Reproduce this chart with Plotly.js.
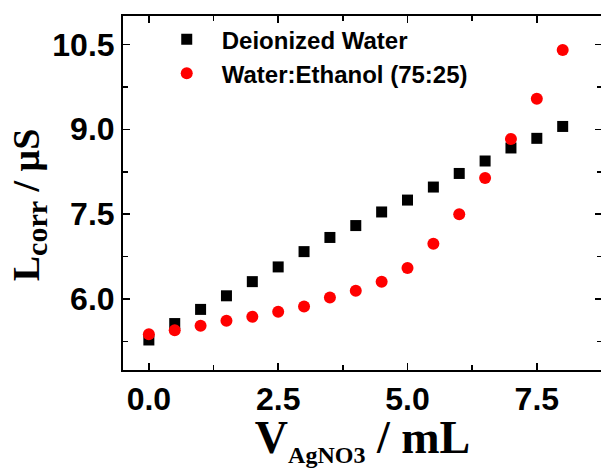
<!DOCTYPE html>
<html>
<head>
<meta charset="utf-8">
<script src="https://cdn.plot.ly/plotly-3.0.1.min.js"></script>
<style>
html,body{margin:0;padding:0;overflow:hidden;background:#fff;}
#chart{width:610px;height:468px;}
</style>
</head>
<body>
<div id="chart"></div>
<script>
const volume = [0, 0.5, 1.0, 1.5, 2.0, 2.5, 3.0, 3.5, 4.0, 4.5, 5.0, 5.5, 6.0, 6.5, 7.0, 7.5, 8.0];
const deionizedWater = [5.28, 5.57, 5.82, 6.06, 6.31, 6.57, 6.84, 7.09, 7.30, 7.54, 7.75, 7.98, 8.22, 8.44, 8.67, 8.84, 9.05];
const waterEthanol = [5.38, 5.45, 5.53, 5.62, 5.69, 5.78, 5.87, 6.03, 6.15, 6.31, 6.55, 6.98, 7.50, 8.14, 8.83, 9.54, 10.40];
const seriesNames = ["Deionized Water", "Water:Ethanol (75:25)"];
const xTitle = 'V<sub><span style="font-size:24px">AgNO3</span></sub> / mL';
const yTitle = 'L<sub><span style="font-size:30px">corr</span></sub> / μS';

const tickFont = {family: "Liberation Sans, Arial, sans-serif", size: 32, color: "#000", weight: "bold"};
const titleFont = {family: "Liberation Serif, Times New Roman, serif", color: "#000", weight: "bold"};

const traces = [
  {x: volume, y: deionizedWater, name: seriesNames[0], type: "scatter", mode: "markers",
   marker: {symbol: "square", size: 11, color: "#000000"}},
  {x: volume, y: waterEthanol, name: seriesNames[1], type: "scatter", mode: "markers",
   marker: {symbol: "circle", size: 12, color: "#ff0000"}}
];

const axisCommon = {
  showgrid: false, zeroline: false, showline: true, linecolor: "#000", linewidth: 2,
  mirror: "ticks", ticks: "inside", ticklen: 7, tickwidth: 1.5, tickcolor: "#000",
  tickfont: tickFont, tickformat: ".1f"
};

const layout = {
  width: 610, height: 468,
  margin: {l: 123, r: 8, t: 16, b: 98},
  paper_bgcolor: "#fff", plot_bgcolor: "#fff",
  showlegend: true,
  legend: {x: 0.06, y: 0.997, xanchor: "left", yanchor: "top", xref: "paper", yref: "paper",
    bgcolor: "rgba(0,0,0,0)", borderwidth: 0, itemwidth: 60, tracegroupgap: 0,
    font: {family: "Liberation Sans, Arial, sans-serif", size: 24, color: "#000", weight: "bold"}},
  xaxis: Object.assign({}, axisCommon, {
    range: [-0.5, 8.76], dtick: 2.5, tick0: 0,
    minor: {dtick: 1.25, ticks: "inside", ticklen: 5, tickcolor: "#000", tickwidth: 1.5},
    title: {text: xTitle, font: Object.assign({size: 46}, titleFont), standoff: 6}
  }),
  yaxis: Object.assign({}, axisCommon, {
    range: [4.75, 11.0], dtick: 1.5, tick0: 0,
    minor: {dtick: 0.75, ticks: "inside", ticklen: 5, tickcolor: "#000", tickwidth: 1.5}
  }),
  annotations: [
    {text: yTitle, xref: "paper", yref: "paper", x: -0.25, y: 0.466,
     xanchor: "left", yanchor: "middle", textangle: -90, showarrow: false,
     font: Object.assign({size: 38}, titleFont)}
  ]
};

Plotly.newPlot("chart", traces, layout, {displayModeBar: false, staticPlot: true});
</script>
</body>
</html>
